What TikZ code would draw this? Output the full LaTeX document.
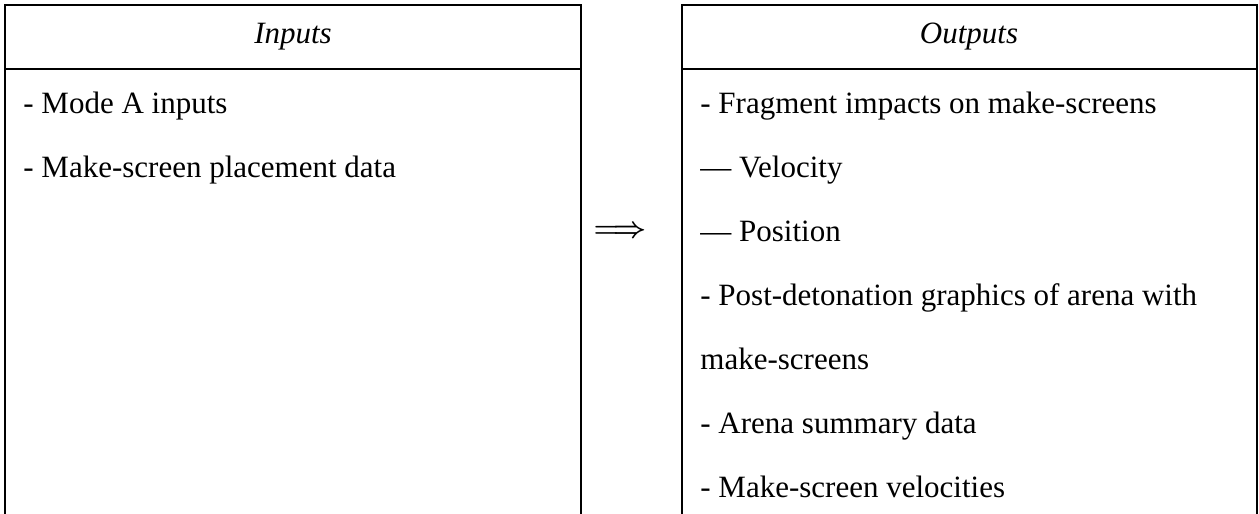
\documentclass[tikz,border=0pt]{standalone}
\usepackage{fontspec}
\usepackage{amsmath}
\setmainfont{Liberation Serif}

\tikzset{
  item/.style={anchor=base west, inner sep=0pt, font=\fontsize{15.5}{19}\selectfont},
  head/.style={anchor=center, inner sep=0pt, font=\fontsize{15.5}{19}\selectfont\itshape},
  frame/.style={line width=0.6pt}
}

\begin{document}
\begin{tikzpicture}[x=0.5pt, y=-0.5pt]
    \useasboundingbox (0,0) rectangle (1259,514);
    % linke Spalte:
    \draw[frame] (5,514) -- (5,5) -- (581,5) -- (581,514); % Rahmen links
    \draw[frame] (5,69) -- (581,69); % Kopfzeile links
    % rechte Spalte:
    \draw[frame] (682,514) -- (682,5) -- (1257,5) -- (1257,514); % Rahmen rechts
    \draw[frame] (682,69) -- (1257,69); % Kopfzeile rechts
    % Kopftexte:
    \node[head] (inhead) at (293,37) {Inputs};
    \node[head] (outhead) at (969,37) {Outputs};
    % Eintraege links:
    \node[item] (in1) at (23,113) {- Mode A inputs};
    \node[item] (in2) at (23,177) {- Make-screen placement data};
    % Eintraege rechts:
    \node[item] (out1) at (700,113) {- Fragment impacts on make-screens};
    \node[item] (out2) at (700,177) {— Velocity};
    \node[item] (out3) at (700,241) {— Position};
    \node[item] (out4) at (700,305) {- Post-detonation graphics of arena with};
    \node[item] (out5) at (700,369) {make-screens};
    \node[item] (out6) at (700,433) {- Arena summary data};
    \node[item] (out7) at (700,497) {- Make-screen velocities};
    % Pfeil:
    \node[inner sep=0pt, font=\fontsize{13.5}{13.5}\selectfont] (arrow) at (620,232) {$\boldsymbol{\Longrightarrow}$};
\end{tikzpicture}
\end{document}
